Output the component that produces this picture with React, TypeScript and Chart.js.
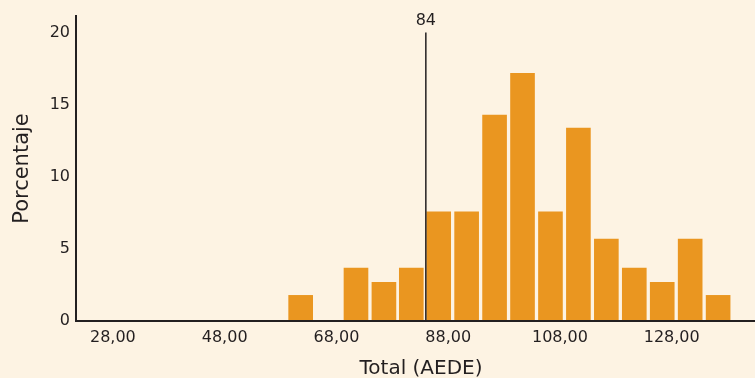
import React, { useEffect, useRef } from "react";
import { Chart, registerables } from "chart.js";

Chart.register(...registerables);

// Histogram bins (centre of each 5-point bin) and percentage of cases
const binCenters = [61.6, 66.6, 71.5, 76.5, 81.4, 86.3, 91.3, 96.3, 101.3, 106.3, 111.3, 116.3, 121.3, 126.3, 131.3, 136.3];
const percents = [1.8, 0, 3.7, 2.7, 3.7, 7.6, 7.6, 14.3, 17.2, 7.6, 13.4, 5.7, 3.7, 2.7, 5.7, 1.8];
const xTickValues = [28, 48, 68, 88, 108, 128];
const yTickValues = [0, 5, 10, 15, 20];
const referenceValue = 84;
const referenceTop = 20;
const xTitle = "Total (AEDE)";
const yTitle = "Porcentaje";

const BG = "#FDF3E3";
const BAR = "#EA9620";
const INK = "#231F20";
const FONT = "'DejaVu Sans', sans-serif";

const overlayPlugin = {
  id: "overlay",
  afterDatasetsDraw(chart: any) {
    const { ctx, scales } = chart;
    const x = scales.x.getPixelForValue(referenceValue);
    const yTop = scales.y.getPixelForValue(referenceTop);
    const yBot = scales.y.getPixelForValue(0);
    ctx.save();
    ctx.strokeStyle = INK;
    ctx.lineWidth = 1.5;
    ctx.beginPath();
    ctx.moveTo(x, yTop);
    ctx.lineTo(x, yBot);
    ctx.stroke();
    ctx.fillStyle = INK;
    ctx.font = `16px ${FONT}`;
    ctx.textAlign = "center";
    ctx.textBaseline = "middle";
    ctx.fillText(String(referenceValue), x, yTop - 12);
    // axis titles
    ctx.font = `20px ${FONT}`;
    ctx.fillText(xTitle, 421, 369);
    ctx.translate(23, 168.5);
    ctx.rotate(-Math.PI / 2);
    ctx.font = `21px ${FONT}`;
    ctx.fillText(yTitle, 0, 0);
    ctx.restore();
  },
};

const bgPlugin = {
  id: "bg",
  beforeDraw(chart: any) {
    const { ctx, width, height } = chart;
    ctx.save();
    ctx.fillStyle = BG;
    ctx.fillRect(0, 0, width, height);
    ctx.restore();
  },
};

export default function App() {
  const ref = useRef<HTMLCanvasElement | null>(null);

  useEffect(() => {
    if (!ref.current) return;
    const chart = new Chart(ref.current, {
      type: "bar",
      data: {
        datasets: [
          {
            data: binCenters.map((x, i) => ({ x, y: percents[i] })),
            backgroundColor: BAR,
            borderWidth: 0,
            barPercentage: 0.9,
            categoryPercentage: 1.0,
          },
        ],
      },
      options: {
        animation: false,
        responsive: true,
        maintainAspectRatio: false,
        layout: { padding: { top: 16, right: 0, left: 0, bottom: 0 } },
        plugins: { legend: { display: false }, tooltip: { enabled: false } },
        scales: {
          x: {
            type: "linear",
            min: 21.4,
            max: 142.9,
            offset: false,
            grid: { display: false, drawTicks: false },
            border: { display: true, color: INK, width: 2, z: 1 },
            afterBuildTicks: (s: any) => {
              s.ticks = xTickValues.map((v) => ({ value: v }));
            },
            ticks: {
              autoSkip: false,
              maxRotation: 0,
              padding: 7,
              color: INK,
              font: { family: FONT, size: 16 },
              callback: (v: any) => Number(v).toFixed(2).replace(".", ","),
            },
            afterFit: (s: any) => {
              s.height = 57;
            },
          },
          y: {
            min: 0,
            max: 21.15,
            grid: { display: false, drawTicks: false },
            border: { display: true, color: INK, width: 2, z: 1 },
            afterBuildTicks: (s: any) => {
              s.ticks = yTickValues.map((v) => ({ value: v }));
            },
            ticks: {
              padding: 6,
              color: INK,
              font: { family: FONT, size: 16 },
            },
            afterFit: (s: any) => {
              s.width = 76;
            },
          },
        },
      },
      plugins: [bgPlugin, overlayPlugin],
    } as any);
    return () => chart.destroy();
  }, []);

  return (
    <div
      style={{
        position: "fixed",
        left: 0,
        top: 0,
        width: 755,
        height: 378,
        background: BG,
      }}
    >
      <canvas ref={ref} />
    </div>
  );
}
